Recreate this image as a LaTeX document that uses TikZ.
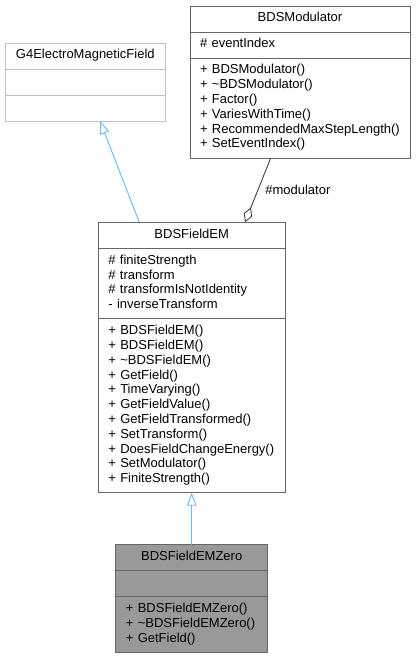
\documentclass[tikz,border=0pt]{standalone}
\usepackage{fontspec}
\setmainfont{Liberation Sans}
\usepackage{xcolor}
\usepackage{tikz}
\usetikzlibrary{positioning}
\usetikzlibrary{arrows.meta}
\definecolor{linegray}{HTML}{666666}
\definecolor{extgray}{HTML}{BFBFBF}
\definecolor{zerogray}{HTML}{999999}
\definecolor{inhblue}{HTML}{63B8FF}
\definecolor{agggray}{HTML}{404040}
\tikzset{box/.style={draw=linegray, fill=white, line width=0.8pt, inner xsep=10pt, inner ysep=5.6pt, outer sep=0pt, font=\fontsize{13pt}{14.8pt}\selectfont, execute at begin node=\strut, execute at end node=\strut}}
\tikzset{hdr/.style={box, align=center, anchor=north}}
\tikzset{sec/.style={box, align=left}}
\tikzset{lbl/.style={right, xshift=3pt, inner sep=4pt, text=black, font=\fontsize{13pt}{14.8pt}\selectfont}}
\tikzset{inh/.style={inhblue, line width=0.9pt, -{Triangle[open, length=13pt, width=9.5pt]}}}
\tikzset{agg/.style={agggray, line width=0.9pt, -{Diamond[open, length=16pt, width=9pt]}}}

\begin{document}
\begin{tikzpicture}[x=1pt, y=-1pt, node distance=0pt]
\useasboundingbox (0,0) rectangle (416,658);
% base class
\node[hdr, draw=extgray, text width=140.7pt] (g4) at (85.3,43) {G4ElectroMagneticField};
\node[sec, draw=extgray, text width=140.7pt, below=of g4] (g4attr) {};
\node[sec, draw=extgray, text width=140.7pt, below=of g4attr] (g4ops) {};
% modulator
\node[hdr, text width=200pt] (mod) at (300,6) {BDSModulator};
\node[sec, text width=200pt, below=of mod] (modattr) {\# eventIndex};
\node[sec, text width=200pt, below=of modattr] (modops) {+ BDSModulator()\\
+ \textasciitilde BDSModulator()\\
+ Factor()\\
+ VariesWithTime()\\
+ RecommendedMaxStepLength()\\
+ SetEventIndex()};
% field
\node[hdr, text width=166.7pt] (fem) at (191.7,222.3) {BDSFieldEM};
\node[sec, text width=166.7pt, below=of fem] (femattr) {\# finiteStrength\\
\# transform\\
\# transformIsNotIdentity\\
- inverseTransform};
\node[sec, text width=166.7pt, below=of femattr] (femops) {+ BDSFieldEM()\\
+ BDSFieldEM()\\
+ \textasciitilde BDSFieldEM()\\
+ GetField()\\
+ TimeVarying()\\
+ GetFieldValue()\\
+ GetFieldTransformed()\\
+ SetTransform()\\
+ DoesFieldChangeEnergy()\\
+ SetModulator()\\
+ FiniteStrength()};
% zero field
\node[hdr, fill=zerogray, text width=131.7pt, below=52pt of femops] (zero) {BDSFieldEMZero};
\node[sec, fill=zerogray, text width=131.7pt, below=of zero] (zeroattr) {};
\node[sec, fill=zerogray, text width=131.7pt, below=of zeroattr] (zeroops) {+ BDSFieldEMZero()\\
+ \textasciitilde BDSFieldEMZero()\\
+ GetField()};

\draw[inh] ([xshift=-52.4pt]fem.north) -- ([xshift=14.7pt]g4ops.south);
\draw[inh] (zero.north) -- (femops.south);
\draw[agg] ([xshift=-29.3pt]modops.south) -- node[lbl, pos=0.5] {\#modulator} ([xshift=53.3pt]fem.north);
\end{tikzpicture}
\end{document}
